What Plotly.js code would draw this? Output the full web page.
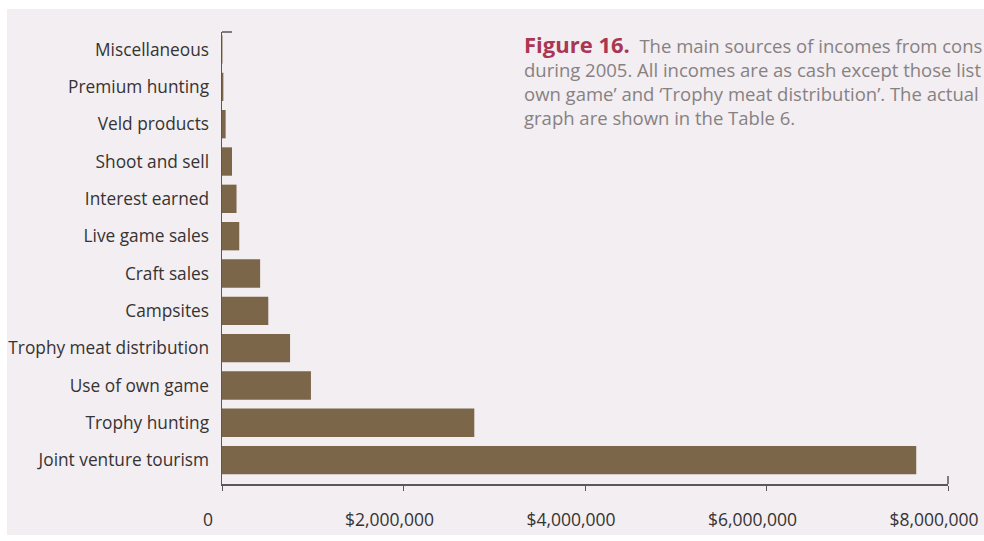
<!DOCTYPE html>
<html>
<head>
<meta charset="utf-8">
<script src="https://cdn.plot.ly/plotly-3.0.1.min.js"></script>
<style>
html,body{margin:0;padding:0;background:#ffffff;}
#chart{width:984px;height:541px;}
</style>
</head>
<body>
<div id="chart"></div>
<script>
// Categories, bottom to top
const categories = [
  "Joint venture tourism",
  "Trophy hunting",
  "Use of own game",
  "Trophy meat distribution",
  "Campsites",
  "Craft sales",
  "Live game sales",
  "Interest earned",
  "Shoot and sell",
  "Veld products",
  "Premium hunting",
  "Miscellaneous"
];
// Income (US$)
const incomes = [7650000, 2780000, 980000, 750000, 510000, 420000, 190000, 160000, 110000, 40000, 15000, 5000];

const tickValues = [0, 2000000, 4000000, 6000000, 8000000];
const tickLabels = ["0", "$2,000,000", "$4,000,000", "$6,000,000", "$8,000,000"];

const captionLines = [
  "<span style='color:#ab3651;font-size:22px'><b>Figure 16.</b></span>  The main sources of incomes from cons",
  "during 2005. All incomes are as cash except those list",
  "own game\u2019 and \u2018Trophy meat distribution\u2019. The actual",
  "graph are shown in the Table 6."
];

const paperColor = "#f2eef1";
const textColor = "#363333";
const axisColor = "#5e5555";

const trace = {
  type: "bar",
  orientation: "h",
  y: categories,
  x: incomes,
  marker: {color: "#7b6649", line: {width: 0}},
  width: 0.76,
  hoverinfo: "x+y"
};

const layout = {
  width: 984, height: 541,
  margin: {l: 222, r: 36, t: 32, b: 57, pad: 0},
  paper_bgcolor: "#ffffff",
  plot_bgcolor: "rgba(0,0,0,0)",
  showlegend: false,
  bargap: 0.24,
  font: {family: "Open Sans, sans-serif", color: textColor},
  xaxis: {
    range: [0, 8000000],
    tickvals: tickValues,
    ticktext: tickLabels,
    showgrid: false,
    zeroline: false,
    showline: true,
    linecolor: axisColor,
    linewidth: 1.5,
    ticks: "outside",
    ticklen: 5,
    tickcolor: axisColor,
    ticklabelstandoff: 14,
    ticklabelshift: -14,
    tickfont: {family: "Open Sans, sans-serif", size: 17.5, color: textColor},
    fixedrange: true
  },
  yaxis: {
    range: [-0.64, 11.47],
    type: "category",
    categoryorder: "array",
    categoryarray: categories,
    showgrid: false,
    zeroline: false,
    showline: true,
    linecolor: axisColor,
    linewidth: 1.5,
    ticks: "",
    ticklabelstandoff: 8,
    tickfont: {family: "Open Sans, sans-serif", size: 17.3, color: textColor},
    fixedrange: true
  },
  shapes: [
    {type: "rect", xref: "paper", yref: "paper", layer: "below",
     x0: (7 - 222) / 726, x1: (990 - 222) / 726,
     y0: (484 - 535) / 452, y1: 1 + (32 - 9) / 452,
     fillcolor: paperColor, line: {width: 0}},
    {type: "line", xref: "paper", yref: "paper",
     x0: 0, x1: 10 / 726, y0: 1, y1: 1,
     line: {color: axisColor, width: 1.5}},
    {type: "line", xref: "paper", yref: "paper",
     x0: 1, x1: 1, y0: 0, y1: 8 / 452,
     line: {color: axisColor, width: 1.5}}
  ],
  annotations: [{
    xref: "paper", yref: "paper",
    x: (522 - 222) / 726,
    y: 1 - (79 - 32) / 452,
    xanchor: "left", yanchor: "middle",
    align: "left",
    showarrow: false,
    text: captionLines.join("<br>"),
    font: {family: "Open Sans, sans-serif", size: 18.5, color: "#878183"}
  }]
};

Plotly.newPlot("chart", [trace], layout, {displayModeBar: false, staticPlot: true});
</script>
</body>
</html>
